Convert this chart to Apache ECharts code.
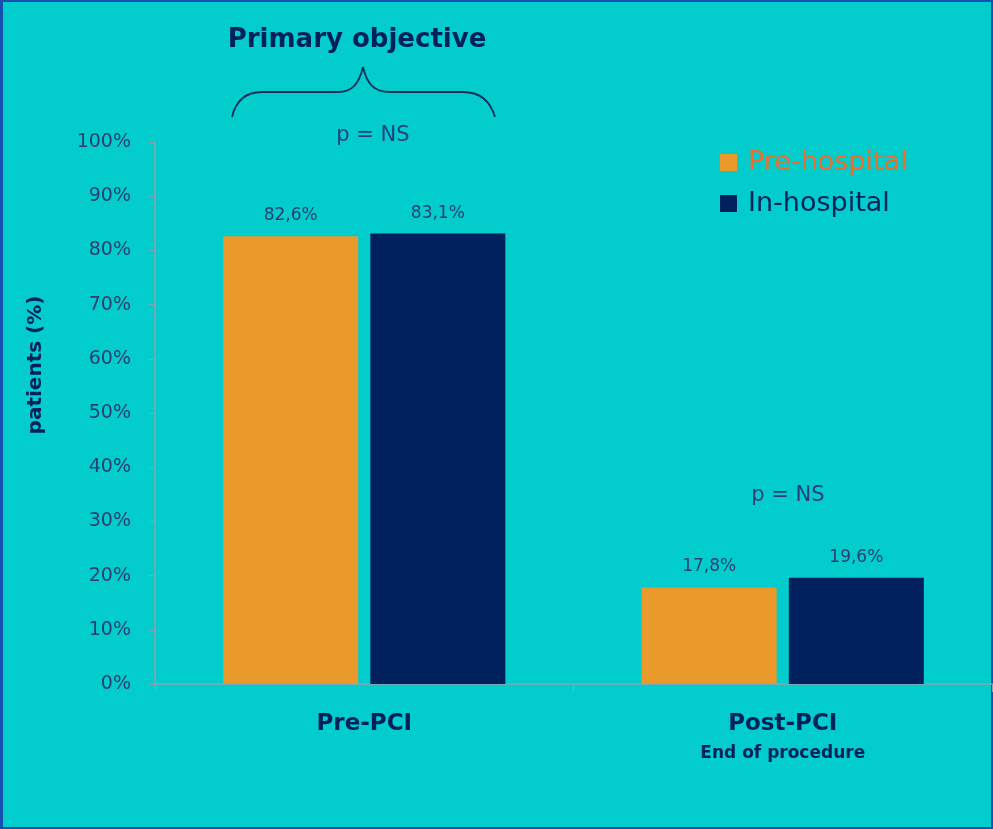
<!DOCTYPE html>
<html>
<head>
<meta charset="utf-8">
<script src="https://cdn.jsdelivr.net/npm/echarts@6/dist/echarts.min.js"></script>
<style>
html,body{margin:0;padding:0;background:#02CCCC;}
#wrap{width:993px;height:829px;box-sizing:border-box;border:2px solid #1550B0;border-left-width:3px;position:relative;}
#c{position:absolute;left:-3px;top:-2px;width:993px;height:829px;}
</style>
</head>
<body>
<div id="wrap"><div id="c"></div></div>
<script>
const categories = ['Pre-PCI', 'Post-PCI'];
const preHospital = [82.6, 17.8];
const inHospital = [83.1, 19.6];
const yTicks = [0, 10, 20, 30, 40, 50, 60, 70, 80, 90, 100];

const chart = echarts.init(document.getElementById('c'));
const navy = '#00215E';
const orange = '#E99A2B';
const font = '"DejaVu Sans", sans-serif';
const labelColor = '#2B3F72';
const braceStyle = { stroke: '#12305E', lineWidth: 1.8, fill: null };

function bez(x1, y1, c1x, c1y, c2x, c2y, x2, y2) {
  return { type: 'bezierCurve', shape: { x1, y1, x2, y2, cpx1: c1x, cpy1: c1y, cpx2: c2x, cpy2: c2y }, style: braceStyle };
}
function seg(x1, y1, x2, y2) {
  return { type: 'line', shape: { x1, y1, x2, y2 }, style: braceStyle };
}
const fmt = p => p.value.toFixed(1).replace('.', ',') + '%';

chart.setOption({
  animation: false,
  grid: { left: 155, right: 1, top: 142, bottom: 145 },
  legend: {
    orient: 'vertical', left: 715, top: 144, itemGap: 14,
    itemWidth: 17, itemHeight: 17, icon: 'rect',
    data: [
      { name: 'Pre-hospital', textStyle: { color: '#E8702C' } },
      { name: 'In-hospital', textStyle: { color: navy } }
    ],
    textStyle: { fontSize: 27, lineHeight: 27, fontFamily: font, padding: [0, 0, 0, 6] }
  },
  xAxis: {
    type: 'category', data: categories,
    axisLine: { lineStyle: { color: '#8FA0B4', width: 1.5 } },
    axisTick: { show: true, length: 8, lineStyle: { color: '#8FA0B4' } },
    axisLabel: {
      margin: 25, fontFamily: font, color: navy,
      formatter: v => v === 'Post-PCI' ? '{a|Post-PCI}\n{b|End of procedure}' : '{a|' + v + '}',
      rich: {
        a: { fontSize: 23, fontWeight: 'bold', color: navy, fontFamily: font, lineHeight: 30 },
        b: { fontSize: 17, fontWeight: 'bold', color: navy, fontFamily: font, lineHeight: 30 }
      }
    }
  },
  yAxis: {
    type: 'value', min: 0, max: 100, interval: 10,
    splitLine: { show: false },
    axisLine: { show: true, lineStyle: { color: '#8FA0B4', width: 1.5 } },
    axisTick: { show: true, length: 6, lineStyle: { color: '#8FA0B4' } },
    axisLabel: {
      margin: 24, fontSize: 19, color: labelColor, fontFamily: font,
      formatter: v => yTicks.includes(v) ? v + '%' : ''
    }
  },
  series: [
    {
      name: 'Pre-hospital', type: 'bar', data: preHospital, barWidth: 135, barGap: '9%',
      itemStyle: { color: orange },
      label: { show: true, position: 'top', distance: 12, fontSize: 17, color: labelColor, fontFamily: font, formatter: fmt }
    },
    {
      name: 'In-hospital', type: 'bar', data: inHospital, barWidth: 135,
      itemStyle: { color: navy },
      label: { show: true, position: 'top', distance: 12, fontSize: 17, color: labelColor, fontFamily: font, formatter: fmt }
    }
  ],
  graphic: [
    { type: 'text', x: 36, y: 365, rotation: Math.PI / 2,
      style: { text: 'patients (%)', fontSize: 20, fontWeight: 'bold', fill: navy, fontFamily: font, align: 'center', verticalAlign: 'middle' } },
    { type: 'text', x: 357, y: 40, style: { text: 'Primary objective', fontSize: 26, fontWeight: 'bold', fill: navy, fontFamily: font, align: 'center', verticalAlign: 'middle' } },
    bez(232, 117, 236, 100, 246, 92, 262, 92),
    seg(262, 92, 338, 92),
    bez(338, 92, 352, 92, 359, 84, 363, 67),
    bez(363, 67, 367, 84, 374, 92, 390, 92),
    seg(390, 92, 463, 92),
    bez(463, 92, 480, 92, 490, 100, 495, 117),
    { type: 'text', x: 373, y: 136, style: { text: 'p = NS', fontSize: 21, fill: '#25407A', fontFamily: font, align: 'center', verticalAlign: 'middle' } },
    { type: 'text', x: 788, y: 496, style: { text: 'p = NS', fontSize: 21, fill: '#25407A', fontFamily: font, align: 'center', verticalAlign: 'middle' } }
  ]
});
</script>
</body>
</html>
